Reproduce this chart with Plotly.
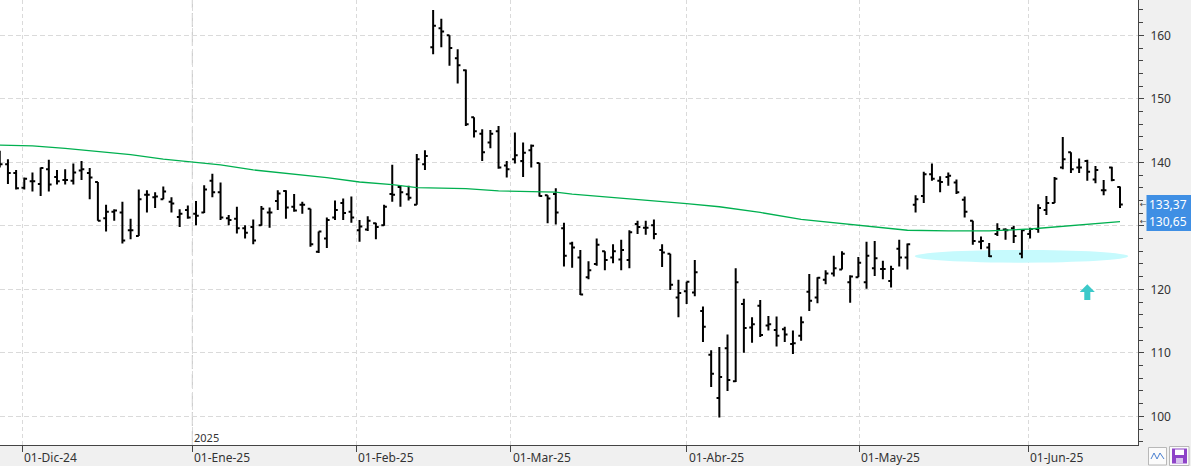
import plotly.graph_objects as go

# ---------------- data (bar index 0 = first session of December 2024) ----------------
bar_index = list(range(-3, 135))

open_ = [141.0, 139.7, 138.3, 136.0, 137.0, 136.6, 138.9, 137.7, 137.2, 137.1,
         138.7, 138.3, 136.9, 131.2, 132.2, 132.1, 129.3, 128.4, 134.9, 134.5,
         134.2, 133.8, 131.4, 132.5, 131.9, 132.1, 137.1, 135.3, 131.2, 131.1,
         129.6, 129.8, 130.1, 132.1, 133.9, 135.5, 133.0, 133.3, 132.7, 125.9,
         128.0, 131.3, 133.6, 132.2, 129.3, 129.4, 130.4, 130.1, 135.0, 136.1,
         134.96, 133.3, 139.7, 158.1, 161.1, 160.0, 156.4, 154.5, 147.1, 144.5,
         143.1, 144.9, 139.5, 140.5, 140.2, 141.9, 139.9, 134.8, 135.0, 129.6,
         127.2, 125.0, 121.9, 124.0, 126.0, 125.0, 124.7, 124.6, 130.3, 129.7,
         130.1, 126.2, 125.6, 118.7, 119.7, 119.5, 116.6, 109.7, 102.9, 110.7,
         105.5, 117.7, 114.0, 117.4, 114.3, 113.6, 113.7, 111.4, 112.7, 119.6,
         118.7, 121.5, 122.5, 123.1, 121.1, 121.9, 121.1, 123.3, 123.2, 121.3,
         126.4, 125.0, 133.3, 134.7, 138.1, 137.1, 137.7, 136.8, 134.1, 130.8,
         127.5, 126.6, 128.7, 129.4, 129.6, 125.6, 128.7, 129.5, 132.5, 133.6,
         139.2, 141.6, 139.2, 140.2, 137.3, 135.6, 139.2, 136.1]

high = [141.8, 140.5, 138.8, 137.6, 138.4, 139.2, 140.4, 138.8, 138.9, 139.8,
        140.2, 139.1, 136.9, 133.3, 132.6, 133.8, 131.1, 135.7, 135.6, 135.3,
        136.2, 134.5, 132.6, 133.2, 133.9, 136.4, 138.2, 136.8, 131.7, 133.0,
        130.1, 131.0, 133.1, 132.9, 135.6, 135.6, 135.0, 133.8, 132.7, 129.1,
        131.3, 134.0, 134.3, 134.6, 130.9, 131.5, 130.5, 133.3, 139.6, 136.4,
        136.3, 141.3, 141.9, 164.0, 162.6, 160.0, 157.8, 154.6, 147.1, 145.2,
        145.1, 145.7, 140.2, 144.7, 143.1, 142.8, 139.9, 134.8, 135.9, 130.5,
        127.5, 126.2, 124.4, 128.0, 126.0, 127.1, 127.8, 129.3, 130.8, 130.8,
        131.0, 127.1, 125.6, 121.5, 121.2, 124.6, 117.3, 110.4, 110.9, 112.9,
        123.3, 118.5, 115.6, 118.3, 115.8, 115.7, 114.1, 113.5, 115.7, 122.4,
        121.9, 123.0, 125.3, 126.0, 122.2, 125.1, 127.5, 127.6, 124.5, 123.7,
        127.8, 127.2, 134.8, 138.5, 139.8, 137.8, 138.4, 137.3, 134.6, 130.8,
        128.3, 127.3, 130.4, 129.6, 130.0, 129.4, 129.7, 133.4, 134.7, 137.7,
        144.0, 141.6, 140.6, 140.4, 139.4, 137.2, 139.3, 136.2]

low = [139.2, 136.6, 135.7, 135.7, 135.4, 134.7, 135.4, 136.5, 136.5, 136.5,
       137.2, 134.2, 130.8, 129.1, 130.8, 127.2, 127.9, 128.4, 132.1, 132.8,
       134.2, 132.1, 129.8, 131.1, 130.1, 132.0, 134.5, 130.9, 130.1, 128.8,
       128.0, 127.1, 130.0, 129.7, 132.5, 131.1, 132.2, 131.9, 126.7, 125.7,
       126.5, 130.9, 130.9, 130.5, 127.5, 129.2, 127.9, 130.0, 133.8, 133.0,
       134.0, 133.3, 138.8, 157.0, 158.1, 155.2, 152.4, 145.7, 143.9, 140.2,
       142.2, 139.0, 137.6, 139.8, 137.7, 139.2, 134.6, 130.4, 130.2, 123.6,
       123.4, 119.1, 121.6, 123.7, 123.0, 124.1, 123.0, 123.3, 128.7, 128.6,
       127.9, 123.5, 119.9, 115.6, 117.7, 118.9, 111.7, 104.6, 99.8, 104.0,
       105.4, 110.0, 111.6, 112.5, 113.5, 111.0, 111.7, 109.8, 111.9, 116.6,
       117.8, 120.8, 122.0, 123.1, 117.9, 121.9, 120.1, 122.1, 121.6, 120.3,
       123.6, 123.1, 132.1, 133.6, 137.1, 135.3, 136.3, 135.0, 131.3, 127.0,
       126.3, 125.1, 128.4, 127.8, 127.3, 124.9, 128.0, 128.9, 131.7, 133.6,
       138.9, 138.3, 138.3, 137.1, 136.7, 134.8, 137.0, 132.8]

close = [139.7, 138.3, 135.9, 137.4, 137.0, 139.1, 136.5, 137.0, 137.2, 138.4,
         138.9, 137.6, 130.8, 132.2, 132.4, 127.7, 129.3, 134.2, 134.9, 134.6,
         135.4, 133.5, 131.9, 131.3, 131.6, 135.7, 135.3, 131.3, 130.9, 129.6,
         128.9, 127.7, 132.7, 132.1, 135.1, 132.9, 132.4, 133.3, 127.1, 129.1,
         130.9, 132.5, 132.0, 131.3, 129.9, 130.8, 129.8, 133.0, 134.9, 135.3,
         134.4, 140.5, 141.0, 161.5, 160.6, 158.0, 155.3, 146.0, 144.9, 141.6,
         144.5, 139.2, 138.9, 141.1, 141.5, 142.6, 134.7, 134.3, 132.1, 125.3,
         126.6, 119.2, 123.0, 127.0, 124.6, 126.0, 126.2, 129.0, 129.8, 129.7,
         128.7, 125.8, 120.7, 119.4, 121.2, 122.7, 114.1, 106.7, 106.2, 105.7,
         121.1, 113.9, 114.5, 112.8, 114.5, 112.7, 112.9, 111.5, 114.8, 118.2,
         121.8, 122.5, 123.3, 125.6, 122.0, 124.2, 125.3, 124.9, 123.2, 123.2,
         125.0, 127.1, 134.2, 138.1, 137.4, 136.9, 137.9, 135.3, 132.2, 127.6,
         127.6, 125.2, 129.5, 129.3, 128.4, 129.3, 129.5, 132.8, 133.6, 137.4,
         140.5, 138.9, 139.2, 138.5, 138.8, 135.6, 137.2, 133.37]

# moving average at a set of bar positions
ma_index = [-3, 1, 5, 9, 13, 17, 21, 24, 28, 32, 37, 41, 45, 48, 54, 58, 65, 67,
            71, 75, 81, 85, 90, 95, 102, 105, 108, 113, 118, 123, 128, 134]
ma_value = [142.7, 142.6, 142.2, 141.7, 141.2, 140.5, 140.0, 139.6, 138.8, 138.3,
            137.6, 136.9, 136.5, 136.0, 135.85, 135.5, 135.3, 135.0, 134.6, 134.2,
            133.5, 133.0, 132.1, 131.0, 130.1, 129.6, 129.3, 129.2, 129.2, 129.5,
            130.0, 130.65]

month_pos = [-0.24, 20.55, 40.57, 59.52, 81.0, 102.1, 122.8]
month_labels = ["01-Dic-24", "01-Ene-25", "01-Feb-25", "01-Mar-25",
                "01-Abr-25", "01-May-25", "01-Jun-25"]
year_label = "2025"
year_pos = 20.55

y_ticks = [100, 110, 120, 130, 140, 150, 160]
# the 130 label sits under the price-label box in the reference
y_tick_text = ["100", "110", "120", "", "140", "150", "160"]

# ---------------- figure ----------------
W, H = 1191, 466
PL_W, PL_H = 1138, 445  # plot area size in px


def px_x(p):
    return p / PL_W


def px_y(p):
    return (PL_H - p) / PL_H


fig = go.Figure()

fig.add_trace(go.Ohlc(
    x=bar_index, open=open_, high=high, low=low, close=close,
    increasing=dict(line=dict(color="black", width=2)),
    decreasing=dict(line=dict(color="black", width=2)),
    tickwidth=0.34, showlegend=False, hoverinfo="skip"))

fig.add_trace(go.Scatter(
    x=ma_index, y=ma_value, mode="lines",
    line=dict(color="#00b050", width=1.3), showlegend=False, hoverinfo="skip"))

shapes = []
# cyan support ellipse
shapes.append(dict(type="circle", xref="x", yref="y", x0=108.9, x1=135.0,
                   y0=124.19, y1=126.19, fillcolor="#c6fafd",
                   line=dict(width=0), layer="between"))
# cyan up arrow
cx, yb, ym, yt, hw, sw = 130.0, 118.31, 119.57, 120.79, 0.92, 0.37
shapes.append(dict(type="path", xref="x", yref="y",
                   path=(f"M {cx-hw},{ym} L {cx},{yt} L {cx+hw},{ym} L {cx+sw},{ym} "
                         f"L {cx+sw},{yb} L {cx-sw},{yb} L {cx-sw},{ym} Z"),
                   fillcolor="#3cc9c9", line=dict(width=0)))
# year separator line
shapes.append(dict(type="line", xref="x", yref="paper", x0=year_pos, x1=year_pos,
                   y0=0, y1=1, line=dict(color="#c4c4c4", width=1, dash="14px,5px"),
                   layer="below"))
# price label box
shapes.append(dict(type="rect", xref="paper", yref="paper",
                   x0=px_x(1146.5), x1=px_x(1191), y0=px_y(231), y1=px_y(195),
                   fillcolor="#3f8fe4", line=dict(width=0)))
# bottom-right icons
shapes.append(dict(type="rect", xref="paper", yref="paper",
                   x0=px_x(1148.5), x1=px_x(1166.5), y0=px_y(465), y1=px_y(447.5),
                   fillcolor="#fbfbfb", line=dict(color="#b8b8b8", width=1)))
shapes.append(dict(type="path", xref="paper", yref="paper",
                   path=(f"M {px_x(1151)},{px_y(459)} L {px_x(1154)},{px_y(453)} L {px_x(1157)},{px_y(459)} "
                         f"L {px_x(1160)},{px_y(453)} L {px_x(1164)},{px_y(459)}"),
                   line=dict(color="#4a7fd0", width=1)))
shapes.append(dict(type="rect", xref="paper", yref="paper",
                   x0=px_x(1169.5), x1=px_x(1189), y0=px_y(465.5), y1=px_y(446.5),
                   fillcolor="#fbfbfb", line=dict(color="#b8b8b8", width=1)))
shapes.append(dict(type="rect", xref="paper", yref="paper",
                   x0=px_x(1172), x1=px_x(1187), y0=px_y(463.5), y1=px_y(448.5),
                   fillcolor="#8e44c8", line=dict(width=0)))
shapes.append(dict(type="rect", xref="paper", yref="paper",
                   x0=px_x(1175), x1=px_x(1184), y0=px_y(455), y1=px_y(449.5),
                   fillcolor="#ffffff", line=dict(width=0)))
shapes.append(dict(type="rect", xref="paper", yref="paper",
                   x0=px_x(1176), x1=px_x(1183), y0=px_y(463.5), y1=px_y(458),
                   fillcolor="#d8c4ee", line=dict(width=0)))

annotations = []
for pos, lab in zip(month_pos, month_labels):
    annotations.append(dict(x=pos, y=px_y(457), xref="x", yref="paper", text=lab,
                            showarrow=False, xanchor="left", yanchor="middle", xshift=0,
                            font=dict(family="Noto Sans", size=12, color="#333333")))
annotations.append(dict(x=year_pos, y=px_y(437), xref="x", yref="paper", text=year_label,
                        showarrow=False, xanchor="left", yanchor="middle", xshift=0,
                        font=dict(family="Noto Sans", size=11, color="#333333")))

for val in (close[-1], ma_value[-1]):
    txt = f"{val:.2f}".replace(".", ",")
    annotations.append(dict(x=px_x(1148), y=val, xref="paper", yref="y", text=txt,
                            showarrow=False, xanchor="left", yanchor="middle",
                            borderpad=0,
                            font=dict(family="Noto Sans", size=12, color="white")))
    annotations.append(dict(x=px_x(1138.5), y=val, xref="paper", yref="y", text="←",
                            showarrow=False, xanchor="left", yanchor="middle",
                            borderpad=0,
                            font=dict(family="DejaVu Sans", size=8, color="#444444")))

fig.update_layout(
    width=W, height=H,
    margin=dict(l=0, r=W - PL_W, t=0, b=H - PL_H, pad=0),
    paper_bgcolor="#f0f0f0", plot_bgcolor="white",
    shapes=shapes, annotations=annotations,
    showlegend=False, dragmode=False,
    font=dict(family="Noto Sans", size=11, color="#333333"),
    xaxis=dict(range=[-2.97, 136.2], rangeslider=dict(visible=False),
               tickvals=month_pos, showticklabels=False,
               ticks="outside", ticklen=6, tickcolor="#444444",
               showgrid=True, gridcolor="#dadada", griddash="4px,3px", gridwidth=1,
               showline=True, linecolor="#444444", linewidth=1,
               zeroline=False, fixedrange=True),
    yaxis=dict(range=[95.48, 165.56], side="right",
               tickvals=y_ticks, ticktext=y_tick_text,
               ticks="outside", ticklen=5, tickcolor="#444444",
               minor=dict(dtick=2, ticks="outside", ticklen=4, tickcolor="#444444",
                          showgrid=False),
               ticklabelstandoff=4,
               tickfont=dict(family="Noto Sans", size=12, color="#333333"),
               showgrid=True, gridcolor="#dadada", griddash="5px,3px", gridwidth=1,
               showline=True, linecolor="#444444", linewidth=1,
               zeroline=False, fixedrange=True),
)

fig.write_html("out.html", config={"displayModeBar": False})
